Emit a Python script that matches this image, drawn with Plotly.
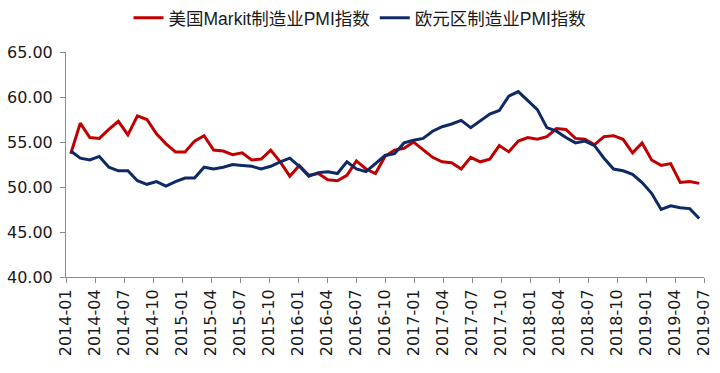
import plotly.graph_objects as go

months = [f"{y}-{m:02d}" for y in range(2014, 2020) for m in range(1, 13)][:67]

us_pmi = [
    53.7, 57.1, 55.5, 55.4, 56.4, 57.3, 55.8, 57.9, 57.5, 55.9, 54.8, 53.9,
    53.9, 55.1, 55.7, 54.1, 54.0, 53.6, 53.8, 53.0, 53.1, 54.1, 52.8, 51.2,
    52.4, 51.3, 51.5, 50.8, 50.7, 51.3, 52.9, 52.0, 51.5, 53.4, 54.1, 54.3,
    55.0, 54.2, 53.3, 52.8, 52.7, 52.0, 53.3, 52.8, 53.1, 54.6, 53.9, 55.1,
    55.5, 55.3, 55.6, 56.5, 56.4, 55.4, 55.3, 54.7, 55.6, 55.7, 55.3, 53.8,
    54.9, 53.0, 52.4, 52.6, 50.5, 50.6, 50.4,
]
ez_pmi = [
    54.0, 53.2, 53.0, 53.4, 52.2, 51.8, 51.8, 50.7, 50.3, 50.6, 50.1, 50.6,
    51.0, 51.0, 52.2, 52.0, 52.2, 52.5, 52.4, 52.3, 52.0, 52.3, 52.8, 53.2,
    52.3, 51.2, 51.6, 51.7, 51.5, 52.8, 52.0, 51.7, 52.6, 53.5, 53.7, 54.9,
    55.2, 55.4, 56.2, 56.7, 57.0, 57.4, 56.6, 57.4, 58.1, 58.5, 60.1, 60.6,
    59.6, 58.6, 56.6, 56.2, 55.5, 54.9, 55.1, 54.6, 53.2, 52.0, 51.8, 51.4,
    50.5, 49.3, 47.5, 47.9, 47.7, 47.6, 46.5,
]
tick_labels = months[::3]

n = len(months)
xs = list(range(n))
ntk = len(tick_labels)
tickvals = [-0.5 + k * n / (ntk - 1) for k in range(ntk)]

fig = go.Figure()
fig.add_trace(go.Scatter(x=xs, y=us_pmi, mode="lines", name="美国Markit制造业PMI指数",
                         line=dict(color="#C00000", width=3)))
fig.add_trace(go.Scatter(x=xs, y=ez_pmi, mode="lines", name="欧元区制造业PMI指数",
                         line=dict(color="#0E2A66", width=3)))

axis_col = "#8C8C8C"
fig.update_layout(
    width=720, height=373,
    margin=dict(l=66, r=16, t=52, b=96, autoexpand=False),
    paper_bgcolor="white", plot_bgcolor="white",
    font=dict(family="Liberation Sans, Noto Sans CJK SC", color="#1a1a1a"),
    legend=dict(orientation="h", xref="container", yref="container",
                x=0.5, xanchor="center", y=0.952, yanchor="middle",
                font=dict(size=17.5, family="Liberation Sans, Noto Sans CJK SC"),
                itemwidth=30, tracegroupgap=0),
    showlegend=True,
)
fig.update_xaxes(
    range=[-0.5, n - 0.5], tickmode="array", tickvals=tickvals, ticktext=tick_labels,
    tickangle=-90, showgrid=False, zeroline=False, showline=True, linecolor=axis_col,
    linewidth=1, ticks="outside", ticklen=5, tickcolor=axis_col, automargin=False,
    tickfont=dict(size=16, family="DejaVu Sans"),
)
fig.update_yaxes(
    range=[40, 65], dtick=5, tickformat=".2f", showgrid=False, zeroline=False,
    showline=True, linecolor=axis_col, linewidth=1, ticks="outside", ticklen=5,
    tickcolor=axis_col, tickfont=dict(size=16, family="DejaVu Sans"),
    ticklabelstandoff=4, automargin=False,
)
fig.write_html(
    "out.html",
    config={"displayModeBar": False},
    post_script="document.body.style.margin='0';document.body.style.overflow='hidden';",
)
